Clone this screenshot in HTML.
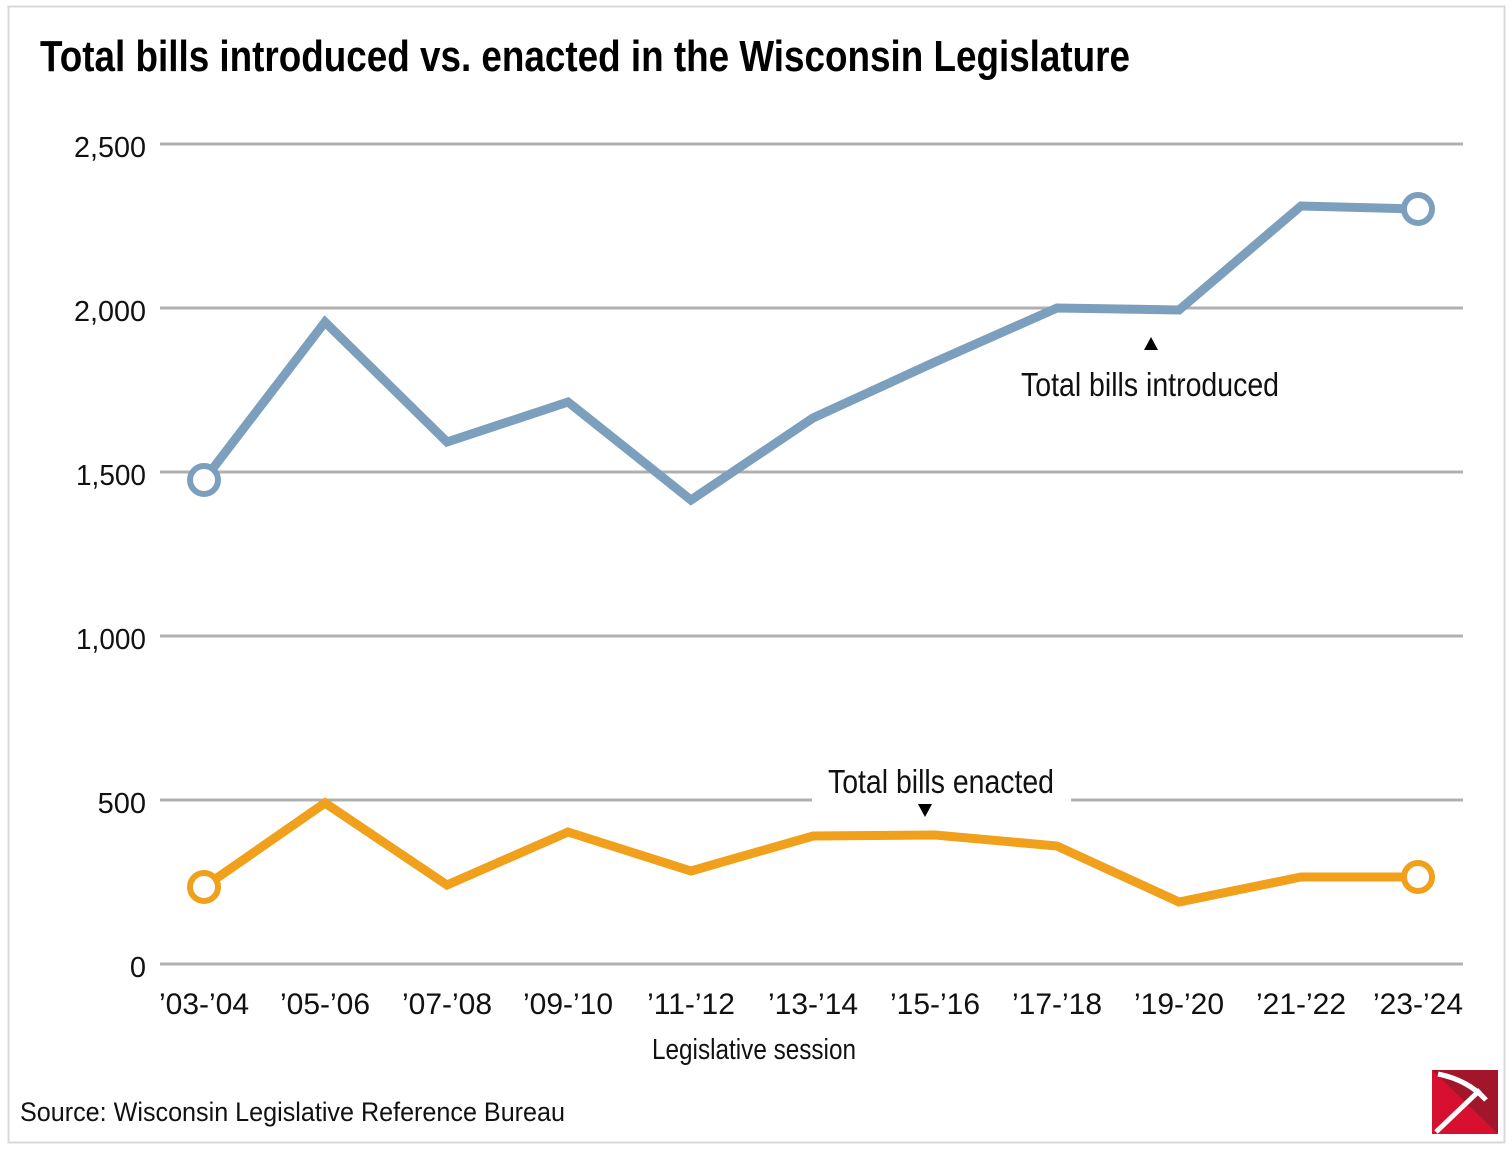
<!DOCTYPE html>
<html><head><meta charset="utf-8"><style>
html,body{margin:0;padding:0;background:#fff;}
svg{display:block;}
text{font-family:"Liberation Sans Narrow","Liberation Sans",sans-serif;}
</style></head><body>
<svg width="1512" height="1149" viewBox="0 0 1512 1149" xmlns="http://www.w3.org/2000/svg">
<rect x="0" y="0" width="1512" height="1149" fill="#fff"/>
<rect x="8.5" y="6.5" width="1496" height="1136" fill="none" stroke="#d9d9d9" stroke-width="2"/>
<text x="40" y="71" font-size="44" font-weight="bold" textLength="1090" lengthAdjust="spacingAndGlyphs" fill="#000">Total bills introduced vs. enacted in the Wisconsin Legislature</text>
<g stroke="#b0b0b0" stroke-width="3">
<line x1="160" y1="144" x2="1463" y2="144"/>
<line x1="160" y1="308" x2="1463" y2="308"/>
<line x1="160" y1="472" x2="1463" y2="472"/>
<line x1="160" y1="636" x2="1463" y2="636"/>
<line x1="160" y1="800" x2="812" y2="800"/>
<line x1="1071" y1="800" x2="1463" y2="800"/>
<line x1="160" y1="964" x2="1463" y2="964"/>
</g>
<g font-size="29" fill="#111" text-anchor="end">
<text x="146" y="157" textLength="72" lengthAdjust="spacingAndGlyphs">2,500</text>
<text x="146" y="321" textLength="72" lengthAdjust="spacingAndGlyphs">2,000</text>
<text x="146" y="485" textLength="70" lengthAdjust="spacingAndGlyphs">1,500</text>
<text x="146" y="649" textLength="70" lengthAdjust="spacingAndGlyphs">1,000</text>
<text x="146" y="813">500</text>
<text x="146" y="977">0</text>
</g>
<g font-size="30" fill="#111" text-anchor="middle">
<text x="204" y="1014">’03-’04</text>
<text x="325" y="1014">’05-’06</text>
<text x="447" y="1014">’07-’08</text>
<text x="568" y="1014">’09-’10</text>
<text x="691" y="1014">’11-’12</text>
<text x="813" y="1014">’13-’14</text>
<text x="935" y="1014">’15-’16</text>
<text x="1057" y="1014">’17-’18</text>
<text x="1179" y="1014">’19-’20</text>
<text x="1301" y="1014">’21-’22</text>
<text x="1418" y="1014">’23-’24</text>
<text x="754" y="1059" font-size="29" textLength="204" lengthAdjust="spacingAndGlyphs">Legislative session</text>
</g>
<polyline fill="none" stroke="#7b9fbc" stroke-width="9" stroke-linejoin="miter" points="204,480 325,322 447,442 568,402 691,500 813,418 935,362 1057,308 1179,310 1301,206 1418,209"/>
<polyline fill="none" stroke="#f0a01a" stroke-width="9" stroke-linejoin="miter" points="204,887 325,803 447,885 568,832 691,871 813,836 935,835 1057,846 1179,902 1301,877 1418,877"/>
<circle cx="204" cy="480" r="14" fill="#fff" stroke="#7b9fbc" stroke-width="6"/>
<circle cx="1418" cy="209" r="14" fill="#fff" stroke="#7b9fbc" stroke-width="6"/>
<circle cx="204" cy="887" r="14" fill="#fff" stroke="#f0a01a" stroke-width="6"/>
<circle cx="1418" cy="877" r="14" fill="#fff" stroke="#f0a01a" stroke-width="6"/>
<polygon points="1151,337 1144,350 1158,350" fill="#000"/>
<text x="1150" y="396" font-size="33" text-anchor="middle" fill="#111" textLength="258" lengthAdjust="spacingAndGlyphs">Total bills introduced</text>
<text x="941" y="793" font-size="33" text-anchor="middle" fill="#111" textLength="226" lengthAdjust="spacingAndGlyphs">Total bills enacted</text>
<polygon points="918,804 932,804 925,817" fill="#000"/>
<text x="20" y="1121" font-size="27" fill="#111" textLength="545" lengthAdjust="spacingAndGlyphs">Source: Wisconsin Legislative Reference Bureau</text>
<g>
<rect x="1432" y="1070" width="66" height="64" fill="#d8102f"/>
<polygon points="1432,1070 1498,1070 1498,1134" fill="#8b1a2a" opacity="0.7"/>
<path d="M1438,1074 Q1468,1080 1486,1100" stroke="#fff" stroke-width="5" fill="none"/>
<line x1="1480" y1="1090" x2="1436" y2="1132" stroke="#fff" stroke-width="5"/>
</g>
</svg>
</body></html>
